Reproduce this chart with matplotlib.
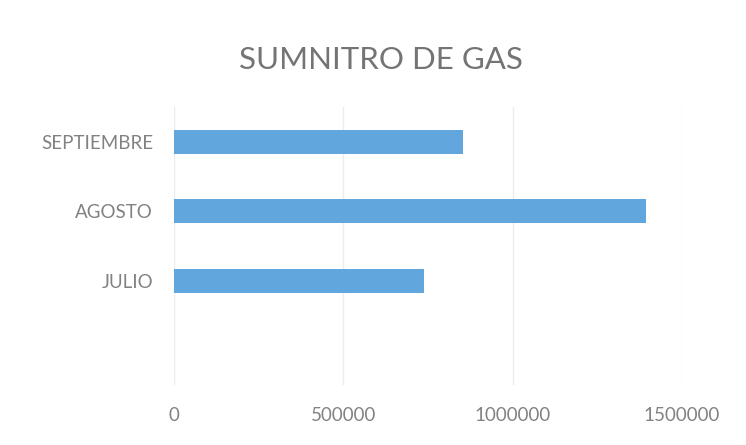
import numpy as np
import matplotlib
matplotlib.use("Agg")
import matplotlib.pyplot as plt

# Datos del grafico
meses = ["JULIO", "AGOSTO", "SEPTIEMBRE"]
suministro = [738000, 1393000, 853000]
ticks_x = [0, 500000, 1000000, 1500000]

plt.rcParams['font.family'] = ['Lato', 'DejaVu Sans']

fig = plt.figure(figsize=(7.46, 4.45), dpi=100)
ax = fig.add_axes([0.2332, 0.1348, 0.681, 0.6248])

y = np.arange(len(meses))
ax.barh(y, suministro, height=0.34, color='#62a6de', zorder=3)

ax.set_xlim(0, 1500000)
ax.set_ylim(-1.5, 2.5)
ax.set_xticks(ticks_x)
ax.set_xticklabels([str(t) for t in ticks_x])
ax.set_yticks(y)
ax.set_yticklabels(meses)

ax.grid(axis='x', color='#ececec', linewidth=1, zorder=0)
for s in ax.spines.values():
    s.set_visible(False)
ax.tick_params(axis='both', length=0, colors='#828282', labelsize=13.5)
ax.tick_params(axis='y', pad=15)
ax.tick_params(axis='x', pad=16)

fig.text(0.51, 0.866, "SUMNITRO DE GAS", ha='center', va='center',
         fontsize=22.5, color='#747474')

fig.savefig("out.png", dpi=100)
